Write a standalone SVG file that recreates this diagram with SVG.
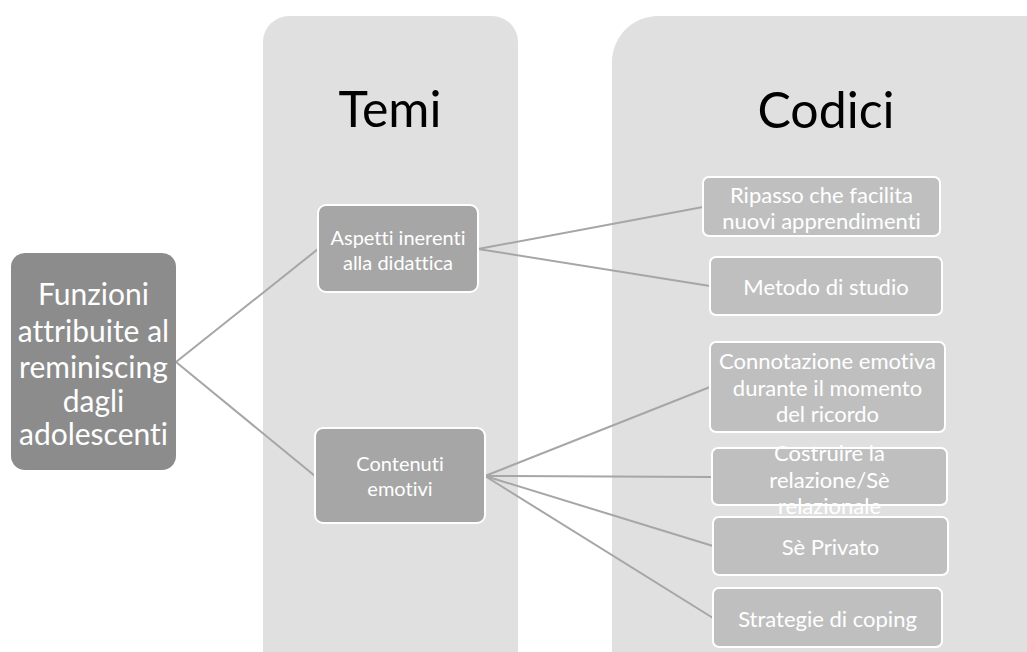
<svg xmlns="http://www.w3.org/2000/svg" width="1027" height="652" viewBox="0 0 1027 652">
<style>
.col{fill:#e0e0e0}
.hdr{font-family:Lato,"Open Sans",sans-serif;font-size:50px;fill:#000;text-anchor:middle;font-variant-ligatures:none}
.root{fill:#8c8c8c}
.mid{fill:#a6a6a6;stroke:#fff;stroke-width:2}
.leaf{fill:#bfbfbf;stroke:#fff;stroke-width:2}
.t{font-family:Lato,"Open Sans",sans-serif;fill:#fff;text-anchor:middle;dominant-baseline:central;font-variant-ligatures:none}
.c line{stroke:#a6a6a6;stroke-width:2}
</style>
<rect width="1027" height="652" fill="#fff"/>
<g id="col-temi"><rect class="col" x="263" y="16" width="255" height="680" rx="26"/><text class="hdr" x="390" y="127">Temi</text></g>
<g id="col-codici"><rect class="col" x="612" y="16" width="460" height="680" rx="46"/><text class="hdr" x="826" y="128" font-size="48">Codici</text></g>
<g class="c" id="connectors">
<line x1="176" y1="362" x2="318" y2="249"/>
<line x1="176" y1="362" x2="315" y2="476"/>
<line x1="478" y1="249" x2="703" y2="207"/>
<line x1="478" y1="249" x2="710" y2="286"/>
<line x1="485" y1="476" x2="710" y2="387"/>
<line x1="485" y1="476" x2="712" y2="477"/>
<line x1="485" y1="476" x2="713" y2="546"/>
<line x1="485" y1="476" x2="713" y2="618"/>
</g>
<g id="root"><rect class="root" x="11" y="253" width="165" height="217" rx="14"/>
<text class="t" font-size="30"><tspan x="93.5" y="293">Funzioni</tspan><tspan x="93.5" y="330">attribuite al</tspan><tspan x="93.5" y="366">reminiscing</tspan><tspan x="93.5" y="400">dagli</tspan><tspan x="93.5" y="433">adolescenti</tspan></text></g>
<g id="aspetti"><rect class="mid" x="318" y="205" width="160" height="87" rx="8"/>
<text class="t" font-size="20"><tspan x="398" y="237">Aspetti inerenti</tspan><tspan x="398" y="262">alla didattica</tspan></text></g>
<g id="contenuti"><rect class="mid" x="315" y="428" width="170" height="95" rx="8"/>
<text class="t" font-size="20"><tspan x="400" y="463">Contenuti</tspan><tspan x="400" y="488">emotivi</tspan></text></g>
<g id="ripasso"><rect class="leaf" x="703" y="177" width="237" height="59" rx="6"/>
<text class="t" font-size="22"><tspan x="821.5" y="194">Ripasso che facilita</tspan><tspan x="821.5" y="220">nuovi apprendimenti</tspan></text></g>
<g id="metodo"><rect class="leaf" x="710" y="257" width="232" height="58" rx="6"/>
<text class="t" font-size="22" x="826" y="286">Metodo di studio</text></g>
<g id="connotazione"><rect class="leaf" x="710" y="342" width="235" height="90" rx="6"/>
<text class="t" font-size="22"><tspan x="827.5" y="360">Connotazione emotiva</tspan><tspan x="827.5" y="387">durante il momento</tspan><tspan x="827.5" y="413">del ricordo</tspan></text></g>
<g id="costruire"><rect class="leaf" x="712" y="448" width="235" height="57" rx="6"/>
<text class="t" font-size="22"><tspan x="829.5" y="452">Costruire la</tspan><tspan x="829.5" y="479">relazione/Sè</tspan><tspan x="829.5" y="505">relazionale</tspan></text></g>
<g id="privato"><rect class="leaf" x="713" y="517" width="235" height="58" rx="6"/>
<text class="t" font-size="22" x="830.5" y="546">Sè Privato</text></g>
<g id="coping"><rect class="leaf" x="713" y="588" width="229" height="59" rx="6"/>
<text class="t" font-size="22" x="827.5" y="618">Strategie di coping</text></g>
</svg>
